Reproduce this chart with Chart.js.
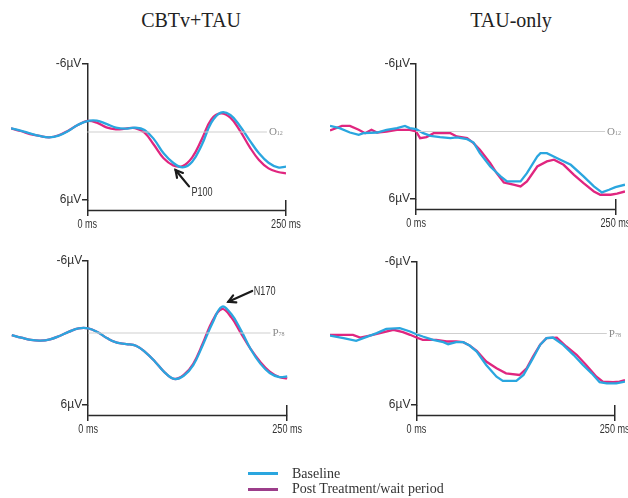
<!DOCTYPE html>
<html>
<head>
<meta charset="utf-8">
<script src="https://cdn.jsdelivr.net/npm/chart.js@4/dist/chart.umd.min.js"></script>
<style>
html,body{margin:0;padding:0;background:#fff;}
#wrap{position:relative;width:628px;height:498px;overflow:hidden;background:#fff;}
canvas{position:absolute;left:0;top:0;}
.title{position:absolute;top:9px;font-family:'Liberation Serif','Times New Roman',serif;font-size:20px;color:#222;transform:translateX(-50%);white-space:nowrap;line-height:22px;}
.legend{position:absolute;left:248px;top:466px;font-family:'Liberation Serif','Times New Roman',serif;font-size:14px;color:#333;}
.legend .row{display:flex;align-items:center;height:15.5px;}
.legend .sw{display:inline-block;width:30px;height:3px;margin-right:14px;}
</style>
</head>
<body>
<div id="wrap">
  <div class="title" style="left:191px">CBTv+TAU</div>
  <div class="title" style="left:511px">TAU-only</div>
  <canvas id="c1" width="628" height="498"></canvas>
  <canvas id="c2" width="628" height="498"></canvas>
  <canvas id="c3" width="628" height="498"></canvas>
  <canvas id="c4" width="628" height="498"></canvas>
  <div class="legend">
    <div class="row"><span class="sw" style="background:#2aa6df"></span><span>Baseline</span></div>
    <div class="row"><span class="sw" style="background:#9c3d8a"></span><span>Post Treatment/wait period</span></div>
  </div>
</div>
<script>
// ---------- DATA ----------
const seriesNames = ['Baseline', 'Post Treatment/wait period'];
const xTicks = [0, 250];          // ms
const yTicks = [-6, 6];           // µV (negative up)

// CBTv+TAU panels (smooth waveforms), time in ms
const tSmooth = [-96,-84,-72,-60,-48,-36,-24,-12,0,12,24,36,48,60,72,84,96,108,120,132,144,156,168,180,192,204,216,228,240,250];
const o12CbtBase = [-0.32,-0.12,0.12,0.35,0.47,0.32,-0.09,-0.62,-0.97,-1.0,-0.71,-0.38,-0.29,-0.38,-0.18,0.65,1.88,2.71,3.12,2.62,1.15,-0.82,-1.71,-1.5,-0.53,0.71,1.88,2.71,3.12,3.06];
const o12CbtPost = [-0.32,-0.09,0.18,0.35,0.47,0.29,-0.12,-0.62,-0.97,-0.82,-0.41,-0.24,-0.29,-0.35,0.06,1.15,2.32,2.94,3.0,2.24,0.65,-1.12,-1.65,-1.26,-0.12,1.29,2.47,3.21,3.53,3.65];
const p78CbtBase = [0.17,0.39,0.58,0.64,0.53,0.25,-0.11,-0.39,-0.39,-0.06,0.44,0.81,0.92,1.06,1.61,2.39,3.28,3.83,3.56,2.67,1.0,-0.81,-2.19,-1.56,-0.22,1.33,2.53,3.33,3.67,3.61];
const p78CbtPost = [0.17,0.39,0.58,0.64,0.53,0.25,-0.11,-0.39,-0.39,-0.06,0.44,0.81,0.92,1.06,1.61,2.39,3.28,3.83,3.5,2.56,0.86,-1.0,-2.0,-1.28,0.03,1.33,2.39,3.22,3.67,3.78];

// TAU-only panels (jagged waveforms)
const o12TauBaseT = [-108,-96,-83,-72,-66,-49,-37,-24,-14,-8,0,9,18,30,43,51,64,72,80,93,106,114,131,139,152,156,164,177,194,210,223,233,242,250,262];
const o12TauBaseV = [-0.50,-0.30,0.09,0.30,0.15,0.09,-0.15,-0.30,-0.50,-0.30,-0.21,0.15,0.38,0.50,0.59,0.53,0.68,0.98,1.92,3.11,3.99,4.44,4.44,3.70,2.22,1.92,1.92,2.37,2.96,3.99,4.88,5.41,5.18,4.94,4.73];
const o12TauPostT = [-108,-93,-83,-72,-64,-56,-49,-37,-24,-8,0,5,13,22,34,43,51,64,72,80,93,101,110,122,131,139,152,164,173,185,198,210,223,231,244,252,262];
const o12TauPostV = [-0.09,-0.50,-0.50,-0.15,0.15,-0.15,0.09,0,-0.15,-0.15,0,0.59,0.50,0.15,0.15,0.15,0.44,0.59,1.04,1.63,2.81,3.70,4.53,4.73,4.88,4.44,3.11,2.66,2.51,2.96,3.85,4.59,5.33,5.62,5.62,5.53,5.33];
const p78TauBaseT = [-109,-92,-76,-67,-50,-38,-21,-8,0,8,21,34,40,50,59,67,76,88,101,109,126,135,147,156,164,172,185,198,210,221,231,240,252,263];
const p78TauBaseV = [0.17,0.39,0.62,0.39,-0.03,-0.39,-0.45,-0.17,0.06,0.25,0.53,0.73,0.90,0.73,0.73,1.01,1.51,2.64,3.62,3.98,3.98,3.48,2.07,0.95,0.39,0.34,0.95,1.79,2.64,3.34,4.09,4.18,4.18,4.04];
const p78TauPostT = [-109,-80,-71,-59,-46,-29,-17,-8,0,8,17,25,38,50,59,67,76,88,101,113,130,139,147,156,164,177,189,202,214,227,235,248,256,263];
const p78TauPostV = [0.11,0.11,0.34,0.17,-0.03,-0.31,-0.11,0.11,0.34,0.53,0.53,0.53,0.67,0.67,0.73,1.01,1.46,2.35,2.92,3.34,3.48,2.92,1.93,0.95,0.39,0.34,1.09,1.79,2.64,3.62,4.04,4.09,4.04,3.92];

// electrode labels and reference-line extents (ms)
const electrode = ['O', 'O', 'P', 'P'];
const electrodeSub = ['12', '12', '78', '78'];
const refLineEnd = [226, 237, 229, 240];

// component annotations: [tip ms, tip µV, tail ms, tail µV, label ms, label µV]
const p100Note = [111, 3.35, 128, 4.8, 131, 5.3];
const n170Note = [176, -2.6, 206, -3.5, 208, -3.5];

// ---------- STYLE / LAYOUT ----------
const BLUE = '#2aa6df', MAG = '#e0267f', AXIS = '#2a2a2a';
const SANS = '"Liberation Sans",Arial,sans-serif';
const SX = 0.7;   // horizontal squeeze for the narrow label lettering
const panels = [
  {id:'c1', area:[11,64,286,200], xr:[-96,250], t:tSmooth, tb:tSmooth, base:o12CbtBase, post:o12CbtPost, smooth:true, note:{vals:p100Note, text:'P100'}},
  {id:'c2', area:[330,64,625,199], xr:[-108,262], t:o12TauPostT, tb:o12TauBaseT, base:o12TauBaseV, post:o12TauPostV, smooth:false},
  {id:'c3', area:[11,261,288,405], xr:[-97,251], t:tSmooth, tb:tSmooth, base:p78CbtBase, post:p78CbtPost, smooth:true, note:{vals:n170Note, text:'N170'}},
  {id:'c4', area:[330,262,625,405], xr:[-109,263], t:p78TauPostT, tb:p78TauBaseT, base:p78TauBaseV, post:p78TauPostV, smooth:false}
];

// y tick labels sit a little left of the centred axis; x tick labels use narrow lettering
const axisTweaks = {
  id: 'axisTweaks',
  beforeDraw(chart) {
    chart.scales.y.getLabelItems().forEach(it => {
      if (!it._moved) { it.options.translation[0] -= 6; it._moved = true; }
    });
    const s = chart.scales.x;
    if (!s._narrow) {
      const orig = s.drawLabels;
      s.drawLabels = function(ca) {
        this.getLabelItems(ca).forEach(it => {
          if (!it._sq) { it.options.translation[0] /= SX; it._sq = true; }
        });
        this.ctx.save(); this.ctx.scale(SX, 1); orig.call(this, ca); this.ctx.restore();
      };
      s._narrow = true;
    }
  }
};

const decor = {
  id: 'decor',
  afterDraw(chart, args, opts) {
    const {ctx} = chart; const x = chart.scales.x, y = chart.scales.y;
    ctx.save();
    // horizontal time bar from 0 to 250 ms
    const by = y.getPixelForValue(yTicks[1]) + 10.5;
    ctx.strokeStyle = AXIS; ctx.lineWidth = 1.5;
    ctx.beginPath(); ctx.moveTo(x.getPixelForValue(xTicks[0]), by); ctx.lineTo(x.getPixelForValue(xTicks[1]), by); ctx.stroke();
    // electrode label at end of reference line
    const lx = x.getPixelForValue(refLineEnd[opts.idx]) + 2, ly = y.getPixelForValue(0) + 3;
    ctx.fillStyle = '#8a8a8a'; ctx.textBaseline = 'alphabetic'; ctx.textAlign = 'left';
    ctx.font = '11px "Liberation Serif", serif';
    ctx.fillText(electrode[opts.idx], lx, ly);
    const w = ctx.measureText(electrode[opts.idx]).width;
    ctx.font = '6px "Liberation Serif", serif';
    ctx.fillText(electrodeSub[opts.idx], lx + w, ly);
    // annotation arrow
    const note = panels[opts.idx].note;
    if (note) {
      const v = note.vals;
      const tx = x.getPixelForValue(v[0]), ty = y.getPixelForValue(v[1]);
      const sx = x.getPixelForValue(v[2]), sy = y.getPixelForValue(v[3]);
      ctx.strokeStyle = '#1a1a1a'; ctx.lineWidth = 2.2; ctx.lineCap = 'round';
      ctx.beginPath(); ctx.moveTo(sx, sy); ctx.lineTo(tx, ty); ctx.stroke();
      const a = Math.atan2(sy - ty, sx - tx), L = 8;
      ctx.beginPath();
      ctx.moveTo(tx + L*Math.cos(a+0.5), ty + L*Math.sin(a+0.5));
      ctx.lineTo(tx, ty);
      ctx.lineTo(tx + L*Math.cos(a-0.5), ty + L*Math.sin(a-0.5));
      ctx.stroke();
      ctx.fillStyle = '#333'; ctx.textBaseline = 'middle';
      ctx.font = '13px ' + SANS;
      const px = x.getPixelForValue(v[4]), py = y.getPixelForValue(v[5]);
      ctx.translate(px, py); ctx.scale(SX, 1);
      ctx.fillText(note.text, 0, 0);
    }
    ctx.restore();
  }
};

const zeroPad = s => { s.paddingLeft = 0; s.paddingRight = 0; s.paddingTop = 0; s.paddingBottom = 0; };

panels.forEach((p, idx) => {
  const [L, T, R, B] = p.area;
  new Chart(document.getElementById(p.id), {
    type: 'line',
    data: {
      datasets: [
        {label:'ref', data:[{x:xTicks[0], y:0}, {x:refLineEnd[idx], y:0}], borderColor:'#cfcfcf', borderWidth:1.2, pointRadius:0, tension:0},
        {label:seriesNames[0], data:p.tb.map((t,i)=>({x:t, y:p.base[i]})), borderColor:BLUE, borderWidth:2.3, pointRadius:0, tension:p.smooth?0.4:0},
        {label:seriesNames[1], data:p.t.map((t,i)=>({x:t, y:p.post[i]})), borderColor:MAG, borderWidth:2.3, pointRadius:0, tension:p.smooth?0.4:0}
      ]
    },
    options: {
      responsive:false, animation:false, devicePixelRatio:1,
      layout:{padding:{left:L, top:T, right:628-R, bottom:498-B}},
      plugins:{legend:{display:false}, tooltip:{enabled:false}, decor:{idx}},
      scales:{
        x:{type:'linear', min:p.xr[0], max:p.xr[1], position:{y:yTicks[1]},
           afterBuildTicks:s=>{ s.ticks = xTicks.map(v=>({value:v})); },
           afterFit:zeroPad,
           ticks:{callback:v=>v+' ms', autoSkip:false, maxRotation:0, padding:1, color:'#333',
                  font:{family:SANS, size:13}},
           grid:{drawOnChartArea:false, drawTicks:true, tickLength:16, color:AXIS, lineWidth:1.5},
           border:{display:false}},
        y:{type:'linear', min:yTicks[0], max:yTicks[1], reverse:true, position:{x:xTicks[0]},
           afterBuildTicks:s=>{ s.ticks = yTicks.map(v=>({value:v})); },
           afterFit:zeroPad,
           ticks:{callback:v=>v+'µV', padding:2, color:'#333', font:{family:SANS, size:12}},
           grid:{drawOnChartArea:false, drawTicks:true, tickLength:5, color:AXIS, lineWidth:1.5},
           border:{display:true, color:AXIS, width:1.5}}
      }
    },
    plugins:[axisTweaks, decor]
  });
});
</script>
</body>
</html>
